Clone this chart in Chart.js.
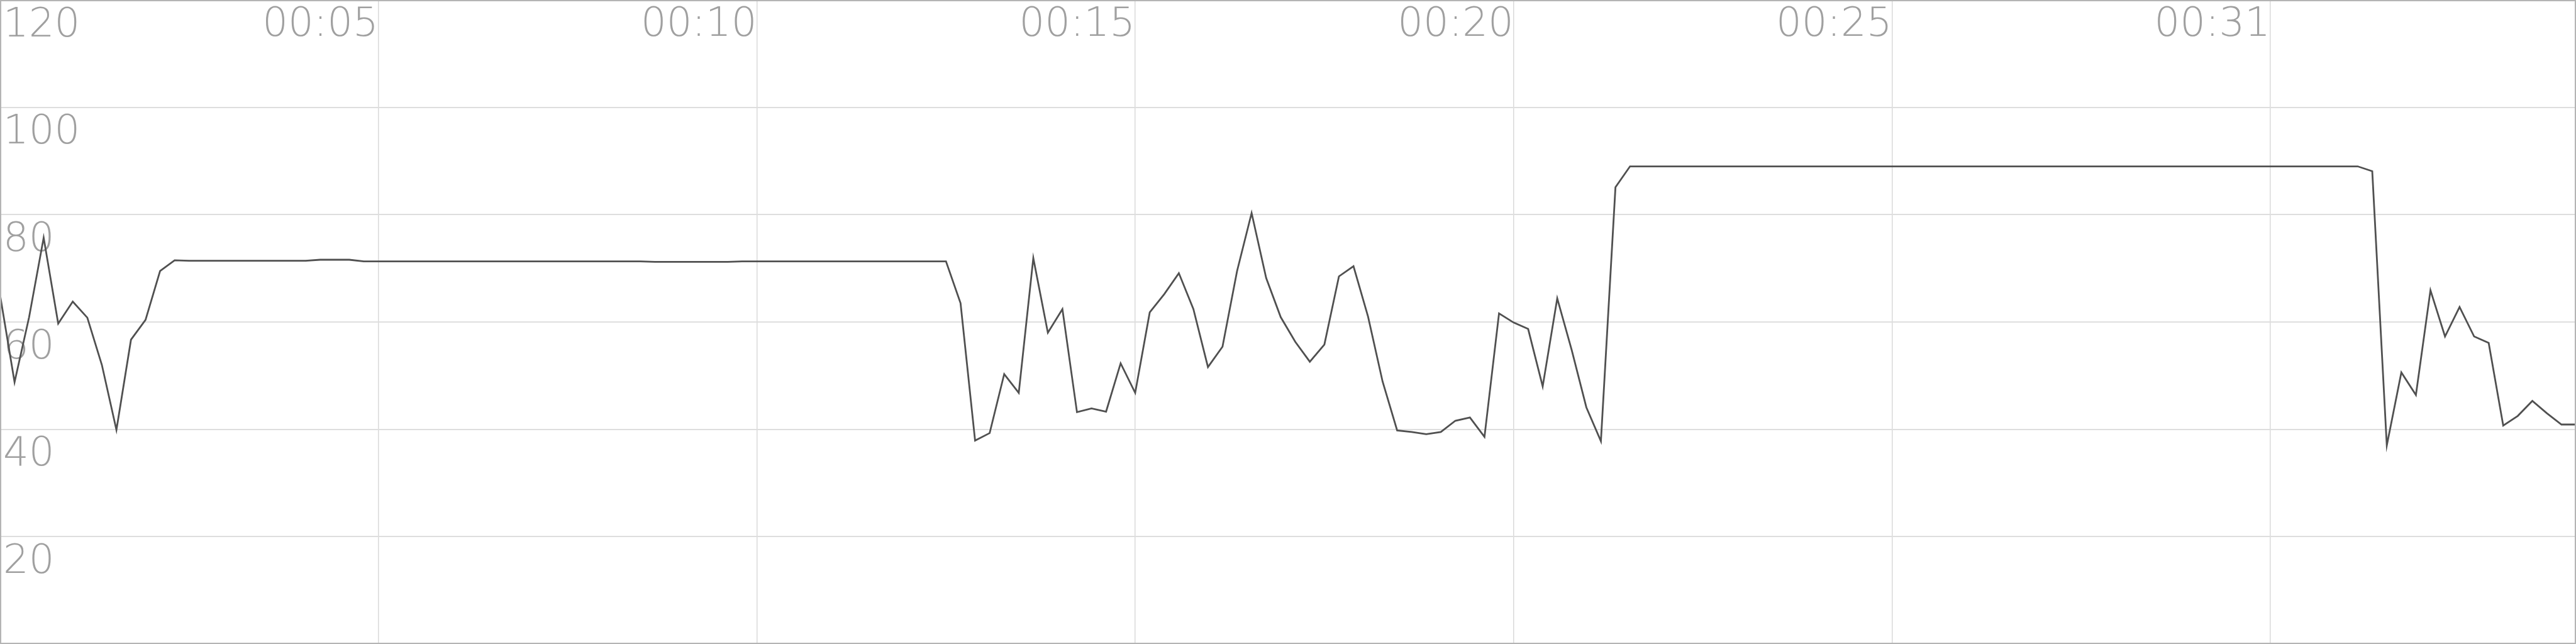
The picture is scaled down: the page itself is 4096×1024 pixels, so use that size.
<!DOCTYPE html>
<html>
<head>
<meta charset="utf-8">
<style>
  html, body { margin: 0; padding: 0; background: #fff; }
  #wrap { width: 4096px; height: 1024px; position: relative; }
</style>
</head>
<body>
<div id="wrap"><canvas id="speedChart"></canvas></div>
<script src="https://cdn.jsdelivr.net/npm/chart.js"></script>
<script>
  // values, one per sample (178 samples)
  const values = [
    65.1, 48.8, 60.9, 75.7, 59.7, 63.8, 60.8, 52.0, 39.9, 56.7,
    60.4, 69.5, 71.5, 71.4, 71.4, 71.4, 71.4, 71.4, 71.4, 71.4,
    71.4, 71.4, 71.6, 71.6, 71.6, 71.3, 71.3, 71.3, 71.3, 71.3,
    71.3, 71.3, 71.3, 71.3, 71.3, 71.3, 71.3, 71.3, 71.3, 71.3,
    71.3, 71.3, 71.3, 71.3, 71.3, 71.2, 71.2, 71.2, 71.2, 71.2,
    71.2, 71.3, 71.3, 71.3, 71.3, 71.3, 71.3, 71.3, 71.3, 71.3,
    71.3, 71.3, 71.3, 71.3, 71.3, 71.3, 63.5, 37.9, 39.3, 50.3,
    46.8, 71.9, 58.0, 62.4, 43.2, 43.9, 43.3, 52.3, 46.8, 61.8,
    65.2, 69.1, 62.4, 51.6, 55.4, 69.5, 80.3, 68.2, 60.9, 56.3,
    52.6, 55.8, 68.5, 70.4, 61.0, 48.9, 39.8, 39.5, 39.1, 39.5,
    41.6, 42.2, 38.6, 61.6, 59.9, 58.7, 48.0, 64.4, 54.7, 44.1,
    37.8, 85.1, 89.0, 89.0, 89.0, 89.0, 89.0, 89.0, 89.0, 89.0,
    89.0, 89.0, 89.0, 89.0, 89.0, 89.0, 89.0, 89.0, 89.0, 89.0,
    89.0, 89.0, 89.0, 89.0, 89.0, 89.0, 89.0, 89.0, 89.0, 89.0,
    89.0, 89.0, 89.0, 89.0, 89.0, 89.0, 89.0, 89.0, 89.0, 89.0,
    89.0, 89.0, 89.0, 89.0, 89.0, 89.0, 89.0, 89.0, 89.0, 89.0,
    89.0, 89.0, 89.0, 88.1, 37.0, 50.6, 46.4, 65.9, 57.3, 62.8,
    57.3, 56.1, 40.7, 42.5, 45.3, 43.0, 40.9, 40.9
  ];

  // time labels and the sample they sit on
  const tickLabels = ["00:05", "00:10", "00:15", "00:20", "00:25", "00:31"];
  const tickIndex = [26, 52, 78, 104, 130, 156];

  const points = values.map((v, i) => ({ x: i, y: v }));

  const labelFont = { family: "DejaVu Sans", size: 64, weight: 200, lineHeight: 1.15 };

  // axes take no room: labels sit inside the plot
  function noRoom(scale, horizontal) {
    if (horizontal) scale.height = 0;
    else scale.width = 0;
    scale.paddingTop = 0;
    scale.paddingBottom = 0;
    scale.paddingLeft = 0;
    scale.paddingRight = 0;
  }

  // frame round the plot
  const framePlugin = {
    id: "frame",
    afterDraw(chart) {
      const a = chart.chartArea;
      const c = chart.ctx;
      c.save();
      c.strokeStyle = "#b4b4b4";
      c.lineWidth = 2;
      c.strokeRect(a.left + 1, a.top + 1, a.right - a.left - 2, a.bottom - a.top - 2);
      c.restore();
    }
  };

  const ctx = document.getElementById("speedChart").getContext("2d");

  new Chart(ctx, {
    type: "line",
    data: {
      datasets: [
        {
          data: points,
          borderColor: "#505050",
          borderWidth: 2.8,
          pointRadius: 0,
          tension: 0,
          fill: false,
        },
      ],
    },
    options: {
      responsive: true,
      maintainAspectRatio: false,
      animation: false,
      layout: { padding: 0, autoPadding: false },
      plugins: {
        legend: { display: false },
        tooltip: { enabled: false },
      },
      scales: {
        x: {
          type: "linear",
          position: "top",
          min: 0,
          max: values.length - 1,
          afterBuildTicks(scale) {
            scale.ticks = [0, ...tickIndex, values.length - 1].map(v => ({ value: v }));
          },
          afterFit(scale) { noRoom(scale, true); },
          grid: { color: "#d9d9d9", lineWidth: 1.5, drawTicks: false },
          border: { display: false },
          ticks: {
            mirror: true,
            padding: 4,
            align: "end",
            maxRotation: 0,
            autoSkip: false,
            color: "#a0a0a0",
            font: labelFont,
            callback(v) {
              const k = tickIndex.indexOf(v);
              return k >= 0 ? tickLabels[k] : "";
            },
          },
        },
        y: {
          min: 0,
          max: 120,
          afterFit(scale) { noRoom(scale, false); },
          grid: { color: "#dedede", lineWidth: 2, drawTicks: false },
          border: { display: false },
          ticks: {
            stepSize: 20,
            mirror: true,
            padding: 5,
            labelOffset: 41,
            color: "#a0a0a0",
            font: labelFont,
          },
        },
      },
    },
    plugins: [framePlugin],
  });
</script>
</body>
</html>
